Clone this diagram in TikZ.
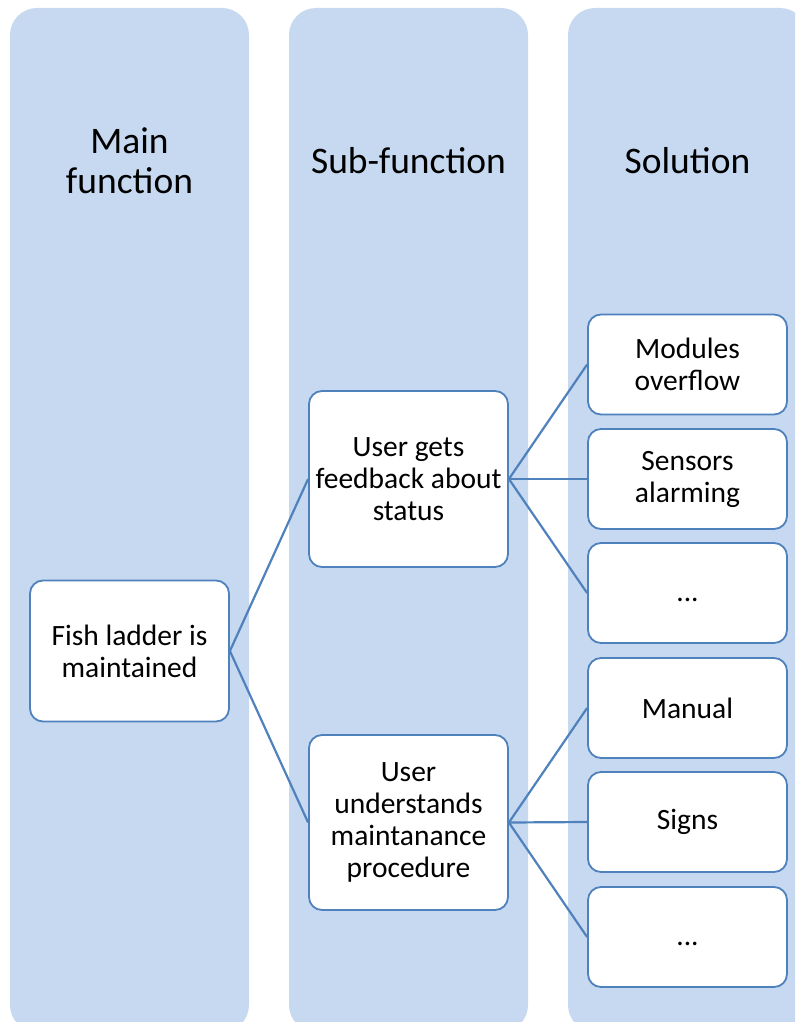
\documentclass[tikz,border=0pt]{standalone}
\usepackage{fontspec}
\setmainfont{Carlito}
\definecolor{colfill}{RGB}{198,217,240}
\definecolor{boxline}{RGB}{79,129,189}
\begin{document}
\begin{tikzpicture}[x=1pt,y=-1pt,
  column/.style={fill=colfill,draw=none,rounded corners=27pt},
  header/.style={font=\fontsize{37.5}{40}\selectfont,align=center,inner sep=0pt},
  fbox/.style={draw=boxline,fill=white,line width=1.8pt,rounded corners=13pt,
    minimum width=199pt,inner sep=0pt,align=center,
    font=\fontsize{29.5}{32}\selectfont},
  dotsbox/.style={fbox,text height=18pt,text depth=2pt},
  link/.style={draw=boxline,line width=2.2pt}]
\useasboundingbox (0,0) rectangle (795,1022);
\begin{scope}
\clip (0,0) rectangle (795,1022);
\fill[column] (10,8) rectangle (249,1032);
\fill[column] (289,8) rectangle (528,1032);
\fill[column] (568,8) rectangle (807,1032);
\end{scope}
\node[header] (h1) at (129.5,161) {Main\\function};
\node[header] (h2) at (408.5,161) {Sub-function};
\node[header] (h3) at (687.5,161) {Solution};
\node[fbox,minimum height=141pt] (main) at (129.5,651) {Fish ladder is\\maintained};
\node[fbox,minimum height=176pt] (sub1) at (408.5,479) {User gets\\feedback about\\status};
\node[fbox,minimum height=175pt] (sub2) at (408.5,822.5) {User\\understands\\maintanance\\procedure};
\node[fbox,minimum height=100pt] (s1) at (687.5,364.5) {Modules\\overflow};
\node[fbox,minimum height=100pt] (s2) at (687.5,479) {Sensors\\alarming};
\node[dotsbox,minimum height=100pt] (s3) at (687.5,593) {...};
\node[fbox,minimum height=100pt] (s4) at (687.5,708) {Manual};
\node[fbox,minimum height=100pt] (s5) at (687.5,822) {Signs};
\node[dotsbox,minimum height=100pt] (s6) at (687.5,937) {...};
\draw[link] (main.east) -- (sub1.west);
\draw[link] (main.east) -- (sub2.west);
\draw[link] (sub1.east) -- (s1.west);
\draw[link] (sub1.east) -- (s2.west);
\draw[link] (sub1.east) -- (s3.west);
\draw[link] (sub2.east) -- (s4.west);
\draw[link] (sub2.east) -- (s5.west);
\draw[link] (sub2.east) -- (s6.west);
\end{tikzpicture}
\end{document}
